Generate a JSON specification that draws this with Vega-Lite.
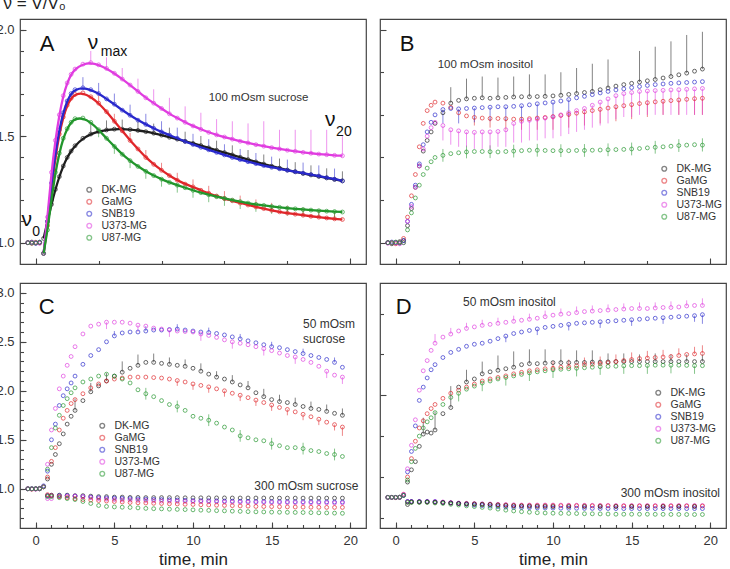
{
"$schema":"https://vega.github.io/schema/vega-lite/v6.json",
"background":"white",
"padding":{"left":-5,"top":-7,"right":0,"bottom":0},
"config":{"font":"Liberation Sans","view":{"stroke":"#444","strokeWidth":1.2},
"axis":{"domain":false,"grid":false,"tickColor":"#444","tickWidth":1.1,"labelColor":"#333","labelFontSize":13,"labelFont":"Liberation Sans","titleFont":"Liberation Sans","titleFontWeight":"normal","titleColor":"#222","labelOverlap":false,"labelFlush":false},
"legend":{"symbolType":"circle","symbolSize":22,"symbolStrokeWidth":1.4,"labelFontSize":10.5,"labelFont":"Liberation Sans","labelColor":"#333","rowPadding":1,"labelOffset":7,"padding":0}},
"datasets":{
"A":[
{"s":"DK-MG","t":-0.5,"v":1},{"s":"DK-MG","t":-0.25,"v":1.003},{"s":"DK-MG","t":0,"v":0.998},{"s":"DK-MG","t":0.25,"v":1},{"s":"DK-MG","t":0.5,"v":1.02},{"s":"DK-MG","t":0.75,"v":1.1},{"s":"DK-MG","t":1,"v":1.18},{"s":"DK-MG","t":1.25,"v":1.25},{"s":"DK-MG","t":1.5,"v":1.31},{"s":"DK-MG","t":1.75,"v":1.36},{"s":"DK-MG","t":2,"v":1.4},{"s":"DK-MG","t":2.25,"v":1.43},{"s":"DK-MG","t":2.5,"v":1.455},{"s":"DK-MG","t":3,"v":1.49},{"s":"DK-MG","t":3.5,"v":1.51,"h":1.555},{"s":"DK-MG","t":4,"v":1.522},{"s":"DK-MG","t":4.5,"v":1.529,"h":1.574},{"s":"DK-MG","t":5,"v":1.533},{"s":"DK-MG","t":5.5,"v":1.533,"h":1.578},{"s":"DK-MG","t":6,"v":1.531},{"s":"DK-MG","t":6.5,"v":1.527,"h":1.572},{"s":"DK-MG","t":7,"v":1.521},{"s":"DK-MG","t":7.5,"v":1.514,"h":1.559},{"s":"DK-MG","t":8,"v":1.505},{"s":"DK-MG","t":8.5,"v":1.495,"h":1.54},{"s":"DK-MG","t":9,"v":1.486},{"s":"DK-MG","t":9.5,"v":1.476,"h":1.521},{"s":"DK-MG","t":10,"v":1.466},{"s":"DK-MG","t":10.5,"v":1.456,"h":1.501},{"s":"DK-MG","t":11,"v":1.445},{"s":"DK-MG","t":11.5,"v":1.434,"h":1.479},{"s":"DK-MG","t":12,"v":1.423},{"s":"DK-MG","t":12.5,"v":1.412,"h":1.457},{"s":"DK-MG","t":13,"v":1.401},{"s":"DK-MG","t":13.5,"v":1.39,"h":1.435},{"s":"DK-MG","t":14,"v":1.379},{"s":"DK-MG","t":14.5,"v":1.369,"h":1.414},{"s":"DK-MG","t":15,"v":1.359},{"s":"DK-MG","t":15.5,"v":1.35,"h":1.395},{"s":"DK-MG","t":16,"v":1.341},{"s":"DK-MG","t":16.5,"v":1.333,"h":1.378},{"s":"DK-MG","t":17,"v":1.325},{"s":"DK-MG","t":17.5,"v":1.318,"h":1.363},{"s":"DK-MG","t":18,"v":1.311},{"s":"DK-MG","t":18.5,"v":1.304,"h":1.349},{"s":"DK-MG","t":19,"v":1.297},{"s":"DK-MG","t":19.5,"v":1.29,"h":1.335},
{"s":"GaMG","t":-0.5,"v":1},{"s":"GaMG","t":-0.25,"v":0.997},{"s":"GaMG","t":0,"v":1.002},{"s":"GaMG","t":0.25,"v":1},{"s":"GaMG","t":0.5,"v":0.95},{"s":"GaMG","t":0.75,"v":1.08},{"s":"GaMG","t":1,"v":1.25},{"s":"GaMG","t":1.25,"v":1.4},{"s":"GaMG","t":1.5,"v":1.51},{"s":"GaMG","t":1.75,"v":1.59},{"s":"GaMG","t":2,"v":1.645},{"s":"GaMG","t":2.25,"v":1.678},{"s":"GaMG","t":2.5,"v":1.696},{"s":"GaMG","t":3,"v":1.703},{"s":"GaMG","t":3.5,"v":1.685},{"s":"GaMG","t":4,"v":1.655,"h":1.69},{"s":"GaMG","t":4.5,"v":1.615},{"s":"GaMG","t":5,"v":1.57,"h":1.605},{"s":"GaMG","t":5.5,"v":1.525},{"s":"GaMG","t":6,"v":1.48,"h":1.515},{"s":"GaMG","t":6.5,"v":1.44},{"s":"GaMG","t":7,"v":1.4,"h":1.435},{"s":"GaMG","t":7.5,"v":1.368},{"s":"GaMG","t":8,"v":1.34,"h":1.375},{"s":"GaMG","t":8.5,"v":1.315},{"s":"GaMG","t":9,"v":1.293,"h":1.328},{"s":"GaMG","t":9.5,"v":1.275},{"s":"GaMG","t":10,"v":1.262,"h":1.297},{"s":"GaMG","t":10.5,"v":1.246},{"s":"GaMG","t":11,"v":1.232,"h":1.267},{"s":"GaMG","t":11.5,"v":1.219},{"s":"GaMG","t":12,"v":1.207,"h":1.242},{"s":"GaMG","t":12.5,"v":1.197},{"s":"GaMG","t":13,"v":1.186,"h":1.221},{"s":"GaMG","t":13.5,"v":1.177},{"s":"GaMG","t":14,"v":1.168,"h":1.203},{"s":"GaMG","t":14.5,"v":1.16},{"s":"GaMG","t":15,"v":1.152,"h":1.187},{"s":"GaMG","t":15.5,"v":1.145},{"s":"GaMG","t":16,"v":1.139,"h":1.174},{"s":"GaMG","t":16.5,"v":1.134},{"s":"GaMG","t":17,"v":1.129,"h":1.164},{"s":"GaMG","t":17.5,"v":1.124},{"s":"GaMG","t":18,"v":1.12,"h":1.155},{"s":"GaMG","t":18.5,"v":1.116},{"s":"GaMG","t":19,"v":1.112,"h":1.147},{"s":"GaMG","t":19.5,"v":1.109},
{"s":"SNB19","t":-0.5,"v":1},{"s":"SNB19","t":-0.25,"v":1},{"s":"SNB19","t":0,"v":0.997},{"s":"SNB19","t":0.25,"v":1.003},{"s":"SNB19","t":0.5,"v":0.95},{"s":"SNB19","t":0.75,"v":1.1},{"s":"SNB19","t":1,"v":1.28},{"s":"SNB19","t":1.25,"v":1.42},{"s":"SNB19","t":1.5,"v":1.53},{"s":"SNB19","t":1.75,"v":1.61},{"s":"SNB19","t":2,"v":1.665},{"s":"SNB19","t":2.25,"v":1.7},{"s":"SNB19","t":2.5,"v":1.718},{"s":"SNB19","t":3,"v":1.727,"h":1.777},{"s":"SNB19","t":3.5,"v":1.718},{"s":"SNB19","t":4,"v":1.7,"h":1.75},{"s":"SNB19","t":4.5,"v":1.675},{"s":"SNB19","t":5,"v":1.65,"h":1.7},{"s":"SNB19","t":5.5,"v":1.622},{"s":"SNB19","t":6,"v":1.598,"h":1.648},{"s":"SNB19","t":6.5,"v":1.575},{"s":"SNB19","t":7,"v":1.555,"h":1.605},{"s":"SNB19","t":7.5,"v":1.537},{"s":"SNB19","t":8,"v":1.52,"h":1.57},{"s":"SNB19","t":8.5,"v":1.505},{"s":"SNB19","t":9,"v":1.49,"h":1.54},{"s":"SNB19","t":9.5,"v":1.475},{"s":"SNB19","t":10,"v":1.461,"h":1.511},{"s":"SNB19","t":10.5,"v":1.448},{"s":"SNB19","t":11,"v":1.436,"h":1.486},{"s":"SNB19","t":11.5,"v":1.424},{"s":"SNB19","t":12,"v":1.412,"h":1.462},{"s":"SNB19","t":12.5,"v":1.4},{"s":"SNB19","t":13,"v":1.39,"h":1.44},{"s":"SNB19","t":13.5,"v":1.38},{"s":"SNB19","t":14,"v":1.371,"h":1.421},{"s":"SNB19","t":14.5,"v":1.362},{"s":"SNB19","t":15,"v":1.354,"h":1.404},{"s":"SNB19","t":15.5,"v":1.347},{"s":"SNB19","t":16,"v":1.34,"h":1.39},{"s":"SNB19","t":16.5,"v":1.333},{"s":"SNB19","t":17,"v":1.326,"h":1.376},{"s":"SNB19","t":17.5,"v":1.32},{"s":"SNB19","t":18,"v":1.313,"h":1.363},{"s":"SNB19","t":18.5,"v":1.305},{"s":"SNB19","t":19,"v":1.298,"h":1.348},{"s":"SNB19","t":19.5,"v":1.29},
{"s":"U373-MG","t":-0.5,"v":1},{"s":"U373-MG","t":-0.25,"v":1},{"s":"U373-MG","t":0,"v":1},{"s":"U373-MG","t":0.25,"v":0.997},{"s":"U373-MG","t":0.5,"v":0.95},{"s":"U373-MG","t":0.75,"v":1.12},{"s":"U373-MG","t":1,"v":1.33},{"s":"U373-MG","t":1.25,"v":1.48},{"s":"U373-MG","t":1.5,"v":1.6},{"s":"U373-MG","t":1.75,"v":1.69},{"s":"U373-MG","t":2,"v":1.75},{"s":"U373-MG","t":2.25,"v":1.79},{"s":"U373-MG","t":2.5,"v":1.815},{"s":"U373-MG","t":3,"v":1.838},{"s":"U373-MG","t":3.5,"v":1.845,"h":1.9},{"s":"U373-MG","t":4,"v":1.835},{"s":"U373-MG","t":4.5,"v":1.818,"h":1.87},{"s":"U373-MG","t":5,"v":1.795},{"s":"U373-MG","t":5.5,"v":1.768,"h":1.82},{"s":"U373-MG","t":6,"v":1.74},{"s":"U373-MG","t":6.5,"v":1.71,"h":1.77},{"s":"U373-MG","t":7,"v":1.68},{"s":"U373-MG","t":7.5,"v":1.655,"h":1.72},{"s":"U373-MG","t":8,"v":1.63},{"s":"U373-MG","t":8.5,"v":1.605,"h":1.68},{"s":"U373-MG","t":9,"v":1.585},{"s":"U373-MG","t":9.5,"v":1.565,"h":1.64},{"s":"U373-MG","t":10,"v":1.548},{"s":"U373-MG","t":10.5,"v":1.532,"h":1.61},{"s":"U373-MG","t":11,"v":1.518},{"s":"U373-MG","t":11.5,"v":1.506,"h":1.58},{"s":"U373-MG","t":12,"v":1.496},{"s":"U373-MG","t":12.5,"v":1.486,"h":1.57},{"s":"U373-MG","t":13,"v":1.476},{"s":"U373-MG","t":13.5,"v":1.468,"h":1.56},{"s":"U373-MG","t":14,"v":1.46},{"s":"U373-MG","t":14.5,"v":1.453,"h":1.57},{"s":"U373-MG","t":15,"v":1.446},{"s":"U373-MG","t":15.5,"v":1.44,"h":1.53},{"s":"U373-MG","t":16,"v":1.434},{"s":"U373-MG","t":16.5,"v":1.429,"h":1.53},{"s":"U373-MG","t":17,"v":1.424},{"s":"U373-MG","t":17.5,"v":1.42,"h":1.53},{"s":"U373-MG","t":18,"v":1.416},{"s":"U373-MG","t":18.5,"v":1.413,"h":1.53},{"s":"U373-MG","t":19,"v":1.41},{"s":"U373-MG","t":19.5,"v":1.408,"h":1.5},
{"s":"U87-MG","t":-0.5,"v":1},{"s":"U87-MG","t":-0.25,"v":0.998},{"s":"U87-MG","t":0,"v":1},{"s":"U87-MG","t":0.25,"v":1.002},{"s":"U87-MG","t":0.5,"v":0.95},{"s":"U87-MG","t":0.75,"v":1.06},{"s":"U87-MG","t":1,"v":1.2},{"s":"U87-MG","t":1.25,"v":1.33},{"s":"U87-MG","t":1.5,"v":1.42},{"s":"U87-MG","t":1.75,"v":1.49},{"s":"U87-MG","t":2,"v":1.535},{"s":"U87-MG","t":2.25,"v":1.565},{"s":"U87-MG","t":2.5,"v":1.582},{"s":"U87-MG","t":3,"v":1.585},{"s":"U87-MG","t":3.5,"v":1.565},{"s":"U87-MG","t":4,"v":1.53,"l":1.495},{"s":"U87-MG","t":4.5,"v":1.49},{"s":"U87-MG","t":5,"v":1.452,"l":1.417},{"s":"U87-MG","t":5.5,"v":1.415},{"s":"U87-MG","t":6,"v":1.385,"l":1.35},{"s":"U87-MG","t":6.5,"v":1.358},{"s":"U87-MG","t":7,"v":1.335,"l":1.3},{"s":"U87-MG","t":7.5,"v":1.315},{"s":"U87-MG","t":8,"v":1.298,"l":1.263},{"s":"U87-MG","t":8.5,"v":1.283},{"s":"U87-MG","t":9,"v":1.27,"l":1.235},{"s":"U87-MG","t":9.5,"v":1.258},{"s":"U87-MG","t":10,"v":1.246,"l":1.211},{"s":"U87-MG","t":10.5,"v":1.235},{"s":"U87-MG","t":11,"v":1.225,"l":1.19},{"s":"U87-MG","t":11.5,"v":1.216},{"s":"U87-MG","t":12,"v":1.208,"l":1.173},{"s":"U87-MG","t":12.5,"v":1.2},{"s":"U87-MG","t":13,"v":1.193,"l":1.158},{"s":"U87-MG","t":13.5,"v":1.186},{"s":"U87-MG","t":14,"v":1.18,"l":1.145},{"s":"U87-MG","t":14.5,"v":1.175},{"s":"U87-MG","t":15,"v":1.17,"l":1.135},{"s":"U87-MG","t":15.5,"v":1.166},{"s":"U87-MG","t":16,"v":1.162,"l":1.127},{"s":"U87-MG","t":16.5,"v":1.159},{"s":"U87-MG","t":17,"v":1.156,"l":1.121},{"s":"U87-MG","t":17.5,"v":1.153},{"s":"U87-MG","t":18,"v":1.15,"l":1.115},{"s":"U87-MG","t":18.5,"v":1.148},{"s":"U87-MG","t":19,"v":1.146,"l":1.111},{"s":"U87-MG","t":19.5,"v":1.144}
],
"B":[
{"s":"DK-MG","t":-0.5,"v":1},{"s":"DK-MG","t":-0.25,"v":0.995},{"s":"DK-MG","t":0,"v":1},{"s":"DK-MG","t":0.25,"v":1.005},{"s":"DK-MG","t":0.5,"v":1.01},{"s":"DK-MG","t":0.75,"v":1.08},{"s":"DK-MG","t":1,"v":1.16},{"s":"DK-MG","t":1.25,"v":1.26},{"s":"DK-MG","t":1.5,"v":1.36},{"s":"DK-MG","t":1.75,"v":1.43},{"s":"DK-MG","t":2,"v":1.48},{"s":"DK-MG","t":2.25,"v":1.52},{"s":"DK-MG","t":2.5,"v":1.56},{"s":"DK-MG","t":3,"v":1.61},{"s":"DK-MG","t":3.5,"v":1.655,"h":1.73},{"s":"DK-MG","t":4,"v":1.668},{"s":"DK-MG","t":4.5,"v":1.675,"h":1.77},{"s":"DK-MG","t":5,"v":1.678},{"s":"DK-MG","t":5.5,"v":1.68,"h":1.78},{"s":"DK-MG","t":6,"v":1.678},{"s":"DK-MG","t":6.5,"v":1.68,"h":1.775},{"s":"DK-MG","t":7,"v":1.682},{"s":"DK-MG","t":7.5,"v":1.684,"h":1.78},{"s":"DK-MG","t":8,"v":1.685},{"s":"DK-MG","t":8.5,"v":1.685,"h":1.79},{"s":"DK-MG","t":9,"v":1.686},{"s":"DK-MG","t":9.5,"v":1.687,"h":1.79},{"s":"DK-MG","t":10,"v":1.689},{"s":"DK-MG","t":10.5,"v":1.692,"h":1.8},{"s":"DK-MG","t":11,"v":1.696},{"s":"DK-MG","t":11.5,"v":1.7,"h":1.82},{"s":"DK-MG","t":12,"v":1.705},{"s":"DK-MG","t":12.5,"v":1.71,"h":1.84},{"s":"DK-MG","t":13,"v":1.718},{"s":"DK-MG","t":13.5,"v":1.726,"h":1.86},{"s":"DK-MG","t":14,"v":1.735},{"s":"DK-MG","t":14.5,"v":1.742},{"s":"DK-MG","t":15,"v":1.748},{"s":"DK-MG","t":15.5,"v":1.754,"h":1.9},{"s":"DK-MG","t":16,"v":1.76},{"s":"DK-MG","t":16.5,"v":1.766,"h":1.92},{"s":"DK-MG","t":17,"v":1.773},{"s":"DK-MG","t":17.5,"v":1.78,"h":1.945},{"s":"DK-MG","t":18,"v":1.788},{"s":"DK-MG","t":18.5,"v":1.796,"h":1.975},{"s":"DK-MG","t":19,"v":1.805},{"s":"DK-MG","t":19.5,"v":1.815,"h":1.99},
{"s":"GaMG","t":-0.5,"v":1},{"s":"GaMG","t":-0.25,"v":1},{"s":"GaMG","t":0,"v":0.995},{"s":"GaMG","t":0.25,"v":1},{"s":"GaMG","t":0.5,"v":1.02},{"s":"GaMG","t":0.75,"v":1.12},{"s":"GaMG","t":1,"v":1.22},{"s":"GaMG","t":1.25,"v":1.32},{"s":"GaMG","t":1.5,"v":1.45},{"s":"GaMG","t":1.75,"v":1.56},{"s":"GaMG","t":2,"v":1.62},{"s":"GaMG","t":2.25,"v":1.645},{"s":"GaMG","t":2.5,"v":1.66},{"s":"GaMG","t":3,"v":1.655},{"s":"GaMG","t":3.5,"v":1.635},{"s":"GaMG","t":4,"v":1.61},{"s":"GaMG","t":4.5,"v":1.595},{"s":"GaMG","t":5,"v":1.588,"l":1.55},{"s":"GaMG","t":5.5,"v":1.585},{"s":"GaMG","t":6,"v":1.583,"l":1.54},{"s":"GaMG","t":6.5,"v":1.583},{"s":"GaMG","t":7,"v":1.582,"l":1.53},{"s":"GaMG","t":7.5,"v":1.58},{"s":"GaMG","t":8,"v":1.58,"l":1.53},{"s":"GaMG","t":8.5,"v":1.582},{"s":"GaMG","t":9,"v":1.585,"l":1.53},{"s":"GaMG","t":9.5,"v":1.588},{"s":"GaMG","t":10,"v":1.592,"l":1.53},{"s":"GaMG","t":10.5,"v":1.597},{"s":"GaMG","t":11,"v":1.602,"l":1.54},{"s":"GaMG","t":11.5,"v":1.608},{"s":"GaMG","t":12,"v":1.614,"l":1.55},{"s":"GaMG","t":12.5,"v":1.62},{"s":"GaMG","t":13,"v":1.626,"l":1.56},{"s":"GaMG","t":13.5,"v":1.632},{"s":"GaMG","t":14,"v":1.638,"l":1.57},{"s":"GaMG","t":14.5,"v":1.643},{"s":"GaMG","t":15,"v":1.648,"l":1.58},{"s":"GaMG","t":15.5,"v":1.653},{"s":"GaMG","t":16,"v":1.657,"l":1.59},{"s":"GaMG","t":16.5,"v":1.661},{"s":"GaMG","t":17,"v":1.664,"l":1.6},{"s":"GaMG","t":17.5,"v":1.667},{"s":"GaMG","t":18,"v":1.67,"l":1.6},{"s":"GaMG","t":18.5,"v":1.673},{"s":"GaMG","t":19,"v":1.676,"l":1.6},{"s":"GaMG","t":19.5,"v":1.678,"l":1.6},
{"s":"SNB19","t":-0.5,"v":1},{"s":"SNB19","t":-0.25,"v":1.003},{"s":"SNB19","t":0,"v":1},{"s":"SNB19","t":0.25,"v":0.998},{"s":"SNB19","t":0.5,"v":1.01},{"s":"SNB19","t":0.75,"v":1.1},{"s":"SNB19","t":1,"v":1.18},{"s":"SNB19","t":1.25,"v":1.27},{"s":"SNB19","t":1.5,"v":1.37},{"s":"SNB19","t":1.75,"v":1.46},{"s":"SNB19","t":2,"v":1.52},{"s":"SNB19","t":2.25,"v":1.565},{"s":"SNB19","t":2.5,"v":1.6},{"s":"SNB19","t":3,"v":1.625,"l":1.56},{"s":"SNB19","t":3.5,"v":1.63},{"s":"SNB19","t":4,"v":1.628,"l":1.56},{"s":"SNB19","t":4.5,"v":1.63},{"s":"SNB19","t":5,"v":1.632,"l":1.565},{"s":"SNB19","t":5.5,"v":1.634},{"s":"SNB19","t":6,"v":1.636,"l":1.57},{"s":"SNB19","t":6.5,"v":1.638},{"s":"SNB19","t":7,"v":1.638,"l":1.57},{"s":"SNB19","t":7.5,"v":1.64},{"s":"SNB19","t":8,"v":1.643,"l":1.575},{"s":"SNB19","t":8.5,"v":1.647},{"s":"SNB19","t":9,"v":1.652,"l":1.58},{"s":"SNB19","t":9.5,"v":1.656},{"s":"SNB19","t":10,"v":1.66,"l":1.585},{"s":"SNB19","t":10.5,"v":1.665},{"s":"SNB19","t":11,"v":1.672,"l":1.59},{"s":"SNB19","t":11.5,"v":1.68},{"s":"SNB19","t":12,"v":1.687},{"s":"SNB19","t":12.5,"v":1.695},{"s":"SNB19","t":13,"v":1.703},{"s":"SNB19","t":13.5,"v":1.71},{"s":"SNB19","t":14,"v":1.717},{"s":"SNB19","t":14.5,"v":1.722},{"s":"SNB19","t":15,"v":1.728},{"s":"SNB19","t":15.5,"v":1.733},{"s":"SNB19","t":16,"v":1.738},{"s":"SNB19","t":16.5,"v":1.742},{"s":"SNB19","t":17,"v":1.745},{"s":"SNB19","t":17.5,"v":1.748},{"s":"SNB19","t":18,"v":1.75},{"s":"SNB19","t":18.5,"v":1.752},{"s":"SNB19","t":19,"v":1.754},{"s":"SNB19","t":19.5,"v":1.756},
{"s":"U373-MG","t":-0.5,"v":0.997},{"s":"U373-MG","t":-0.25,"v":1},{"s":"U373-MG","t":0,"v":1},{"s":"U373-MG","t":0.25,"v":0.995},{"s":"U373-MG","t":0.5,"v":1},{"s":"U373-MG","t":0.75,"v":1.1},{"s":"U373-MG","t":1,"v":1.17},{"s":"U373-MG","t":1.25,"v":1.26},{"s":"U373-MG","t":1.5,"v":1.36},{"s":"U373-MG","t":1.75,"v":1.44},{"s":"U373-MG","t":2,"v":1.5},{"s":"U373-MG","t":2.25,"v":1.54},{"s":"U373-MG","t":2.5,"v":1.565},{"s":"U373-MG","t":3,"v":1.55,"l":1.48},{"s":"U373-MG","t":3.5,"v":1.53,"l":1.46},{"s":"U373-MG","t":4,"v":1.525,"l":1.45},{"s":"U373-MG","t":4.5,"v":1.52,"l":1.45},{"s":"U373-MG","t":5,"v":1.518,"l":1.44},{"s":"U373-MG","t":5.5,"v":1.52,"l":1.44},{"s":"U373-MG","t":6,"v":1.52,"l":1.44},{"s":"U373-MG","t":6.5,"v":1.522,"l":1.45},{"s":"U373-MG","t":7,"v":1.53,"l":1.45},{"s":"U373-MG","t":7.5,"v":1.56,"l":1.47},{"s":"U373-MG","t":8,"v":1.57,"l":1.47},{"s":"U373-MG","t":8.5,"v":1.575,"l":1.48},{"s":"U373-MG","t":9,"v":1.58,"l":1.48},{"s":"U373-MG","t":9.5,"v":1.585,"l":1.49},{"s":"U373-MG","t":10,"v":1.59,"l":1.49},{"s":"U373-MG","t":10.5,"v":1.6,"l":1.5},{"s":"U373-MG","t":11,"v":1.61,"l":1.51},{"s":"U373-MG","t":11.5,"v":1.62,"l":1.52},{"s":"U373-MG","t":12,"v":1.63,"l":1.53},{"s":"U373-MG","t":12.5,"v":1.645,"l":1.54},{"s":"U373-MG","t":13,"v":1.66,"l":1.55},{"s":"U373-MG","t":13.5,"v":1.675,"l":1.56},{"s":"U373-MG","t":14,"v":1.69,"l":1.58},{"s":"U373-MG","t":14.5,"v":1.7,"l":1.59},{"s":"U373-MG","t":15,"v":1.705,"l":1.59},{"s":"U373-MG","t":15.5,"v":1.71,"l":1.6},{"s":"U373-MG","t":16,"v":1.712,"l":1.6},{"s":"U373-MG","t":16.5,"v":1.714,"l":1.6},{"s":"U373-MG","t":17,"v":1.715,"l":1.6},{"s":"U373-MG","t":17.5,"v":1.717,"l":1.6},{"s":"U373-MG","t":18,"v":1.718,"l":1.6},{"s":"U373-MG","t":18.5,"v":1.72,"l":1.6},{"s":"U373-MG","t":19,"v":1.722,"l":1.6},{"s":"U373-MG","t":19.5,"v":1.724,"l":1.6},
{"s":"U87-MG","t":-0.5,"v":1},{"s":"U87-MG","t":-0.25,"v":1},{"s":"U87-MG","t":0,"v":1.003},{"s":"U87-MG","t":0.25,"v":1},{"s":"U87-MG","t":0.5,"v":1},{"s":"U87-MG","t":0.75,"v":1.06},{"s":"U87-MG","t":1,"v":1.14},{"s":"U87-MG","t":1.25,"v":1.21},{"s":"U87-MG","t":1.5,"v":1.27},{"s":"U87-MG","t":1.75,"v":1.32},{"s":"U87-MG","t":2,"v":1.35},{"s":"U87-MG","t":2.25,"v":1.38},{"s":"U87-MG","t":2.5,"v":1.4},{"s":"U87-MG","t":3,"v":1.41,"h":1.44,"l":1.38},{"s":"U87-MG","t":3.5,"v":1.418},{"s":"U87-MG","t":4,"v":1.422},{"s":"U87-MG","t":4.5,"v":1.426,"h":1.456,"l":1.396},{"s":"U87-MG","t":5,"v":1.428},{"s":"U87-MG","t":5.5,"v":1.428},{"s":"U87-MG","t":6,"v":1.427,"h":1.457,"l":1.397},{"s":"U87-MG","t":6.5,"v":1.426},{"s":"U87-MG","t":7,"v":1.428},{"s":"U87-MG","t":7.5,"v":1.43,"h":1.46,"l":1.4},{"s":"U87-MG","t":8,"v":1.432},{"s":"U87-MG","t":8.5,"v":1.434},{"s":"U87-MG","t":9,"v":1.434,"h":1.464,"l":1.404},{"s":"U87-MG","t":9.5,"v":1.433},{"s":"U87-MG","t":10,"v":1.432},{"s":"U87-MG","t":10.5,"v":1.432,"h":1.462,"l":1.402},{"s":"U87-MG","t":11,"v":1.432},{"s":"U87-MG","t":11.5,"v":1.433},{"s":"U87-MG","t":12,"v":1.433,"h":1.463,"l":1.403},{"s":"U87-MG","t":12.5,"v":1.434},{"s":"U87-MG","t":13,"v":1.435},{"s":"U87-MG","t":13.5,"v":1.436,"h":1.466,"l":1.406},{"s":"U87-MG","t":14,"v":1.437},{"s":"U87-MG","t":14.5,"v":1.438},{"s":"U87-MG","t":15,"v":1.44,"h":1.47,"l":1.41},{"s":"U87-MG","t":15.5,"v":1.442},{"s":"U87-MG","t":16,"v":1.445},{"s":"U87-MG","t":16.5,"v":1.448,"h":1.478,"l":1.418},{"s":"U87-MG","t":17,"v":1.45},{"s":"U87-MG","t":17.5,"v":1.453},{"s":"U87-MG","t":18,"v":1.456,"h":1.486,"l":1.426},{"s":"U87-MG","t":18.5,"v":1.458},{"s":"U87-MG","t":19,"v":1.46},{"s":"U87-MG","t":19.5,"v":1.458,"h":1.49,"l":1.428}
],
"C":[
{"s":"DK-MG","t":-0.5,"v":1},{"s":"DK-MG","t":-0.25,"v":1},{"s":"DK-MG","t":0,"v":1},{"s":"DK-MG","t":0.25,"v":1.005},{"s":"DK-MG","t":0.5,"v":1.02},{"s":"DK-MG","t":0.75,"v":1.1},{"s":"DK-MG","t":1,"v":1.25},{"s":"DK-MG","t":1.25,"v":1.35},{"s":"DK-MG","t":1.5,"v":1.46},{"s":"DK-MG","t":1.75,"v":1.56},{"s":"DK-MG","t":2,"v":1.66},{"s":"DK-MG","t":2.25,"v":1.74},{"s":"DK-MG","t":2.5,"v":1.8,"h":1.92},{"s":"DK-MG","t":3,"v":1.9},{"s":"DK-MG","t":3.5,"v":1.99,"h":2.08},{"s":"DK-MG","t":4,"v":2.05},{"s":"DK-MG","t":4.5,"v":2.1,"h":2.18},{"s":"DK-MG","t":5,"v":2.15},{"s":"DK-MG","t":5.5,"v":2.19,"h":2.3},{"s":"DK-MG","t":6,"v":2.23},{"s":"DK-MG","t":6.5,"v":2.26,"h":2.37},{"s":"DK-MG","t":7,"v":2.29},{"s":"DK-MG","t":7.5,"v":2.29,"h":2.38},{"s":"DK-MG","t":8,"v":2.28},{"s":"DK-MG","t":8.5,"v":2.27,"h":2.34},{"s":"DK-MG","t":9,"v":2.26},{"s":"DK-MG","t":9.5,"v":2.25,"h":2.32},{"s":"DK-MG","t":10,"v":2.23},{"s":"DK-MG","t":10.5,"v":2.2,"h":2.28},{"s":"DK-MG","t":11,"v":2.17},{"s":"DK-MG","t":11.5,"v":2.14,"h":2.2},{"s":"DK-MG","t":12,"v":2.12},{"s":"DK-MG","t":12.5,"v":2.09,"h":2.16},{"s":"DK-MG","t":13,"v":2.06},{"s":"DK-MG","t":13.5,"v":2.03,"h":2.1},{"s":"DK-MG","t":14,"v":1.98},{"s":"DK-MG","t":14.5,"v":1.94,"h":2.02},{"s":"DK-MG","t":15,"v":1.91},{"s":"DK-MG","t":15.5,"v":1.89,"h":1.96},{"s":"DK-MG","t":16,"v":1.88},{"s":"DK-MG","t":16.5,"v":1.86,"h":1.93},{"s":"DK-MG","t":17,"v":1.84},{"s":"DK-MG","t":17.5,"v":1.82,"h":1.89},{"s":"DK-MG","t":18,"v":1.81},{"s":"DK-MG","t":18.5,"v":1.79,"h":1.86},{"s":"DK-MG","t":19,"v":1.77},{"s":"DK-MG","t":19.5,"v":1.75,"h":1.82},
{"s":"GaMG","t":-0.5,"v":1},{"s":"GaMG","t":-0.25,"v":0.995},{"s":"GaMG","t":0,"v":1},{"s":"GaMG","t":0.25,"v":1},{"s":"GaMG","t":0.5,"v":1.02},{"s":"GaMG","t":0.75,"v":1.12},{"s":"GaMG","t":1,"v":1.28},{"s":"GaMG","t":1.25,"v":1.42},{"s":"GaMG","t":1.5,"v":1.6},{"s":"GaMG","t":1.75,"v":1.72},{"s":"GaMG","t":2,"v":1.8},{"s":"GaMG","t":2.25,"v":1.87},{"s":"GaMG","t":2.5,"v":1.91},{"s":"GaMG","t":3,"v":1.97},{"s":"GaMG","t":3.5,"v":2.03},{"s":"GaMG","t":4,"v":2.07},{"s":"GaMG","t":4.5,"v":2.1},{"s":"GaMG","t":5,"v":2.12},{"s":"GaMG","t":5.5,"v":2.13},{"s":"GaMG","t":6,"v":2.14},{"s":"GaMG","t":6.5,"v":2.14},{"s":"GaMG","t":7,"v":2.14},{"s":"GaMG","t":7.5,"v":2.135},{"s":"GaMG","t":8,"v":2.13},{"s":"GaMG","t":8.5,"v":2.12},{"s":"GaMG","t":9,"v":2.105,"l":2.05},{"s":"GaMG","t":9.5,"v":2.09},{"s":"GaMG","t":10,"v":2.07,"l":2.01},{"s":"GaMG","t":10.5,"v":2.055},{"s":"GaMG","t":11,"v":2.04,"l":1.98},{"s":"GaMG","t":11.5,"v":2.02},{"s":"GaMG","t":12,"v":2,"l":1.94},{"s":"GaMG","t":12.5,"v":1.975},{"s":"GaMG","t":13,"v":1.955,"l":1.895},{"s":"GaMG","t":13.5,"v":1.93},{"s":"GaMG","t":14,"v":1.905,"l":1.845},{"s":"GaMG","t":14.5,"v":1.88},{"s":"GaMG","t":15,"v":1.855,"l":1.795},{"s":"GaMG","t":15.5,"v":1.83},{"s":"GaMG","t":16,"v":1.81,"l":1.75},{"s":"GaMG","t":16.5,"v":1.785},{"s":"GaMG","t":17,"v":1.76,"l":1.7},{"s":"GaMG","t":17.5,"v":1.735},{"s":"GaMG","t":18,"v":1.71,"l":1.65},{"s":"GaMG","t":18.5,"v":1.68},{"s":"GaMG","t":19,"v":1.655,"l":1.595},{"s":"GaMG","t":19.5,"v":1.63,"l":1.54},
{"s":"SNB19","t":-0.5,"v":1},{"s":"SNB19","t":-0.25,"v":1},{"s":"SNB19","t":0,"v":1},{"s":"SNB19","t":0.25,"v":1},{"s":"SNB19","t":0.5,"v":1.03},{"s":"SNB19","t":0.75,"v":1.18},{"s":"SNB19","t":1,"v":1.5},{"s":"SNB19","t":1.25,"v":1.66},{"s":"SNB19","t":1.5,"v":1.85},{"s":"SNB19","t":1.75,"v":1.95},{"s":"SNB19","t":2,"v":2.02},{"s":"SNB19","t":2.25,"v":2.08},{"s":"SNB19","t":2.5,"v":2.15},{"s":"SNB19","t":3,"v":2.27},{"s":"SNB19","t":3.5,"v":2.36},{"s":"SNB19","t":4,"v":2.42},{"s":"SNB19","t":4.5,"v":2.5},{"s":"SNB19","t":5,"v":2.56,"h":2.61},{"s":"SNB19","t":5.5,"v":2.59},{"s":"SNB19","t":6,"v":2.6},{"s":"SNB19","t":6.5,"v":2.6},{"s":"SNB19","t":7,"v":2.61,"h":2.66},{"s":"SNB19","t":7.5,"v":2.62},{"s":"SNB19","t":8,"v":2.62},{"s":"SNB19","t":8.5,"v":2.625},{"s":"SNB19","t":9,"v":2.63,"h":2.68},{"s":"SNB19","t":9.5,"v":2.62},{"s":"SNB19","t":10,"v":2.61},{"s":"SNB19","t":10.5,"v":2.6},{"s":"SNB19","t":11,"v":2.595,"h":2.645},{"s":"SNB19","t":11.5,"v":2.585},{"s":"SNB19","t":12,"v":2.57},{"s":"SNB19","t":12.5,"v":2.55},{"s":"SNB19","t":13,"v":2.53,"h":2.58},{"s":"SNB19","t":13.5,"v":2.51},{"s":"SNB19","t":14,"v":2.49},{"s":"SNB19","t":14.5,"v":2.47},{"s":"SNB19","t":15,"v":2.45,"h":2.5},{"s":"SNB19","t":15.5,"v":2.44},{"s":"SNB19","t":16,"v":2.42},{"s":"SNB19","t":16.5,"v":2.4},{"s":"SNB19","t":17,"v":2.38,"h":2.43},{"s":"SNB19","t":17.5,"v":2.36},{"s":"SNB19","t":18,"v":2.34},{"s":"SNB19","t":18.5,"v":2.32},{"s":"SNB19","t":19,"v":2.29,"h":2.34},{"s":"SNB19","t":19.5,"v":2.24},
{"s":"U373-MG","t":-0.5,"v":1},{"s":"U373-MG","t":-0.25,"v":1},{"s":"U373-MG","t":0,"v":0.995},{"s":"U373-MG","t":0.25,"v":1},{"s":"U373-MG","t":0.5,"v":1.02},{"s":"U373-MG","t":0.75,"v":1.25},{"s":"U373-MG","t":1,"v":1.6},{"s":"U373-MG","t":1.25,"v":1.82},{"s":"U373-MG","t":1.5,"v":2.02},{"s":"U373-MG","t":1.75,"v":2.15},{"s":"U373-MG","t":2,"v":2.26},{"s":"U373-MG","t":2.25,"v":2.35},{"s":"U373-MG","t":2.5,"v":2.45},{"s":"U373-MG","t":3,"v":2.58},{"s":"U373-MG","t":3.5,"v":2.66},{"s":"U373-MG","t":4,"v":2.68},{"s":"U373-MG","t":4.5,"v":2.7,"l":2.63},{"s":"U373-MG","t":5,"v":2.7},{"s":"U373-MG","t":5.5,"v":2.7},{"s":"U373-MG","t":6,"v":2.69},{"s":"U373-MG","t":6.5,"v":2.67,"l":2.6},{"s":"U373-MG","t":7,"v":2.66},{"s":"U373-MG","t":7.5,"v":2.64},{"s":"U373-MG","t":8,"v":2.63},{"s":"U373-MG","t":8.5,"v":2.62,"l":2.55},{"s":"U373-MG","t":9,"v":2.61},{"s":"U373-MG","t":9.5,"v":2.605},{"s":"U373-MG","t":10,"v":2.6},{"s":"U373-MG","t":10.5,"v":2.58,"l":2.51},{"s":"U373-MG","t":11,"v":2.565},{"s":"U373-MG","t":11.5,"v":2.545},{"s":"U373-MG","t":12,"v":2.52},{"s":"U373-MG","t":12.5,"v":2.5,"l":2.43},{"s":"U373-MG","t":13,"v":2.485},{"s":"U373-MG","t":13.5,"v":2.47},{"s":"U373-MG","t":14,"v":2.45},{"s":"U373-MG","t":14.5,"v":2.43,"l":2.36},{"s":"U373-MG","t":15,"v":2.41},{"s":"U373-MG","t":15.5,"v":2.385},{"s":"U373-MG","t":16,"v":2.36},{"s":"U373-MG","t":16.5,"v":2.345,"l":2.275},{"s":"U373-MG","t":17,"v":2.32},{"s":"U373-MG","t":17.5,"v":2.29},{"s":"U373-MG","t":18,"v":2.25},{"s":"U373-MG","t":18.5,"v":2.2,"l":2.13},{"s":"U373-MG","t":19,"v":2.16},{"s":"U373-MG","t":19.5,"v":2.14,"l":2.07},
{"s":"U87-MG","t":-0.5,"v":1},{"s":"U87-MG","t":-0.25,"v":1},{"s":"U87-MG","t":0,"v":1},{"s":"U87-MG","t":0.25,"v":1},{"s":"U87-MG","t":0.5,"v":1.02},{"s":"U87-MG","t":0.75,"v":1.2},{"s":"U87-MG","t":1,"v":1.42},{"s":"U87-MG","t":1.25,"v":1.62},{"s":"U87-MG","t":1.5,"v":1.75},{"s":"U87-MG","t":1.75,"v":1.85},{"s":"U87-MG","t":2,"v":1.92},{"s":"U87-MG","t":2.25,"v":1.98},{"s":"U87-MG","t":2.5,"v":2.03},{"s":"U87-MG","t":3,"v":2.09},{"s":"U87-MG","t":3.5,"v":2.12},{"s":"U87-MG","t":4,"v":2.15},{"s":"U87-MG","t":4.5,"v":2.17},{"s":"U87-MG","t":5,"v":2.15},{"s":"U87-MG","t":5.5,"v":2.12},{"s":"U87-MG","t":6,"v":2.08},{"s":"U87-MG","t":6.5,"v":2.01},{"s":"U87-MG","t":7,"v":1.97,"h":2.03,"l":1.91},{"s":"U87-MG","t":7.5,"v":1.94},{"s":"U87-MG","t":8,"v":1.9},{"s":"U87-MG","t":8.5,"v":1.86},{"s":"U87-MG","t":9,"v":1.84,"h":1.9,"l":1.78},{"s":"U87-MG","t":9.5,"v":1.8},{"s":"U87-MG","t":10,"v":1.74},{"s":"U87-MG","t":10.5,"v":1.72},{"s":"U87-MG","t":11,"v":1.7,"h":1.76,"l":1.64},{"s":"U87-MG","t":11.5,"v":1.67},{"s":"U87-MG","t":12,"v":1.63},{"s":"U87-MG","t":12.5,"v":1.6},{"s":"U87-MG","t":13,"v":1.54,"h":1.6,"l":1.48},{"s":"U87-MG","t":13.5,"v":1.52},{"s":"U87-MG","t":14,"v":1.5},{"s":"U87-MG","t":14.5,"v":1.49},{"s":"U87-MG","t":15,"v":1.46,"h":1.52,"l":1.4},{"s":"U87-MG","t":15.5,"v":1.44},{"s":"U87-MG","t":16,"v":1.42},{"s":"U87-MG","t":16.5,"v":1.42},{"s":"U87-MG","t":17,"v":1.41,"h":1.47,"l":1.35},{"s":"U87-MG","t":17.5,"v":1.39},{"s":"U87-MG","t":18,"v":1.38},{"s":"U87-MG","t":18.5,"v":1.36},{"s":"U87-MG","t":19,"v":1.35,"h":1.41,"l":1.29},{"s":"U87-MG","t":19.5,"v":1.33},
{"s":"DK-MG","t":0.75,"v":0.93},{"s":"DK-MG","t":1,"v":0.935},{"s":"DK-MG","t":1.5,"v":0.935},{"s":"DK-MG","t":2,"v":0.935},{"s":"DK-MG","t":2.5,"v":0.93},{"s":"DK-MG","t":3,"v":0.93},{"s":"DK-MG","t":3.5,"v":0.925},{"s":"DK-MG","t":4,"v":0.92},{"s":"DK-MG","t":4.5,"v":0.92},{"s":"DK-MG","t":5,"v":0.915},{"s":"DK-MG","t":5.5,"v":0.915},{"s":"DK-MG","t":6,"v":0.912},{"s":"DK-MG","t":6.5,"v":0.912},{"s":"DK-MG","t":7,"v":0.91},{"s":"DK-MG","t":7.5,"v":0.91},{"s":"DK-MG","t":8,"v":0.91},{"s":"DK-MG","t":8.5,"v":0.91},{"s":"DK-MG","t":9,"v":0.91},{"s":"DK-MG","t":9.5,"v":0.908},{"s":"DK-MG","t":10,"v":0.908},{"s":"DK-MG","t":10.5,"v":0.908},{"s":"DK-MG","t":11,"v":0.907},{"s":"DK-MG","t":11.5,"v":0.907},{"s":"DK-MG","t":12,"v":0.907},{"s":"DK-MG","t":12.5,"v":0.906},{"s":"DK-MG","t":13,"v":0.906},{"s":"DK-MG","t":13.5,"v":0.906},{"s":"DK-MG","t":14,"v":0.906},{"s":"DK-MG","t":14.5,"v":0.906},{"s":"DK-MG","t":15,"v":0.905},{"s":"DK-MG","t":15.5,"v":0.905},{"s":"DK-MG","t":16,"v":0.905},{"s":"DK-MG","t":16.5,"v":0.905},{"s":"DK-MG","t":17,"v":0.905},{"s":"DK-MG","t":17.5,"v":0.905},{"s":"DK-MG","t":18,"v":0.905},{"s":"DK-MG","t":18.5,"v":0.905},{"s":"DK-MG","t":19,"v":0.905},{"s":"DK-MG","t":19.5,"v":0.905},
{"s":"SNB19","t":0.75,"v":0.93},{"s":"SNB19","t":1,"v":0.93},{"s":"SNB19","t":1.5,"v":0.93},{"s":"SNB19","t":2,"v":0.93},{"s":"SNB19","t":2.5,"v":0.925},{"s":"SNB19","t":3,"v":0.92},{"s":"SNB19","t":3.5,"v":0.915},{"s":"SNB19","t":4,"v":0.91},{"s":"SNB19","t":4.5,"v":0.907},{"s":"SNB19","t":5,"v":0.905},{"s":"SNB19","t":5.5,"v":0.902},{"s":"SNB19","t":6,"v":0.9},{"s":"SNB19","t":6.5,"v":0.897},{"s":"SNB19","t":7,"v":0.895},{"s":"SNB19","t":7.5,"v":0.892},{"s":"SNB19","t":8,"v":0.89},{"s":"SNB19","t":8.5,"v":0.888},{"s":"SNB19","t":9,"v":0.885},{"s":"SNB19","t":9.5,"v":0.883},{"s":"SNB19","t":10,"v":0.88},{"s":"SNB19","t":10.5,"v":0.879},{"s":"SNB19","t":11,"v":0.878},{"s":"SNB19","t":11.5,"v":0.877},{"s":"SNB19","t":12,"v":0.875},{"s":"SNB19","t":12.5,"v":0.874},{"s":"SNB19","t":13,"v":0.873},{"s":"SNB19","t":13.5,"v":0.872},{"s":"SNB19","t":14,"v":0.87},{"s":"SNB19","t":14.5,"v":0.87},{"s":"SNB19","t":15,"v":0.869},{"s":"SNB19","t":15.5,"v":0.869},{"s":"SNB19","t":16,"v":0.868},{"s":"SNB19","t":16.5,"v":0.868},{"s":"SNB19","t":17,"v":0.867},{"s":"SNB19","t":17.5,"v":0.867},{"s":"SNB19","t":18,"v":0.866},{"s":"SNB19","t":18.5,"v":0.866},{"s":"SNB19","t":19,"v":0.865},{"s":"SNB19","t":19.5,"v":0.865},
{"s":"U373-MG","t":0.75,"v":0.9},{"s":"U373-MG","t":1,"v":0.9},{"s":"U373-MG","t":1.5,"v":0.92},{"s":"U373-MG","t":2,"v":0.925},{"s":"U373-MG","t":2.5,"v":0.925},{"s":"U373-MG","t":3,"v":0.92},{"s":"U373-MG","t":3.5,"v":0.91},{"s":"U373-MG","t":4,"v":0.9},{"s":"U373-MG","t":4.5,"v":0.895},{"s":"U373-MG","t":5,"v":0.89},{"s":"U373-MG","t":5.5,"v":0.887},{"s":"U373-MG","t":6,"v":0.885},{"s":"U373-MG","t":6.5,"v":0.882},{"s":"U373-MG","t":7,"v":0.88},{"s":"U373-MG","t":7.5,"v":0.878},{"s":"U373-MG","t":8,"v":0.875},{"s":"U373-MG","t":8.5,"v":0.874},{"s":"U373-MG","t":9,"v":0.872},{"s":"U373-MG","t":9.5,"v":0.871},{"s":"U373-MG","t":10,"v":0.87},{"s":"U373-MG","t":10.5,"v":0.869},{"s":"U373-MG","t":11,"v":0.868},{"s":"U373-MG","t":11.5,"v":0.867},{"s":"U373-MG","t":12,"v":0.865},{"s":"U373-MG","t":12.5,"v":0.864},{"s":"U373-MG","t":13,"v":0.863},{"s":"U373-MG","t":13.5,"v":0.862},{"s":"U373-MG","t":14,"v":0.86},{"s":"U373-MG","t":14.5,"v":0.86},{"s":"U373-MG","t":15,"v":0.859},{"s":"U373-MG","t":15.5,"v":0.859},{"s":"U373-MG","t":16,"v":0.858},{"s":"U373-MG","t":16.5,"v":0.858},{"s":"U373-MG","t":17,"v":0.857},{"s":"U373-MG","t":17.5,"v":0.857},{"s":"U373-MG","t":18,"v":0.856},{"s":"U373-MG","t":18.5,"v":0.856},{"s":"U373-MG","t":19,"v":0.855},{"s":"U373-MG","t":19.5,"v":0.855},
{"s":"GaMG","t":0.75,"v":0.94},{"s":"GaMG","t":1,"v":0.93},{"s":"GaMG","t":1.5,"v":0.92},{"s":"GaMG","t":2,"v":0.91},{"s":"GaMG","t":2.5,"v":0.9},{"s":"GaMG","t":3,"v":0.89},{"s":"GaMG","t":3.5,"v":0.885},{"s":"GaMG","t":4,"v":0.88},{"s":"GaMG","t":4.5,"v":0.875},{"s":"GaMG","t":5,"v":0.87},{"s":"GaMG","t":5.5,"v":0.865},{"s":"GaMG","t":6,"v":0.86},{"s":"GaMG","t":6.5,"v":0.857},{"s":"GaMG","t":7,"v":0.855},{"s":"GaMG","t":7.5,"v":0.852},{"s":"GaMG","t":8,"v":0.85},{"s":"GaMG","t":8.5,"v":0.847},{"s":"GaMG","t":9,"v":0.845},{"s":"GaMG","t":9.5,"v":0.842},{"s":"GaMG","t":10,"v":0.84},{"s":"GaMG","t":10.5,"v":0.837},{"s":"GaMG","t":11,"v":0.835},{"s":"GaMG","t":11.5,"v":0.832},{"s":"GaMG","t":12,"v":0.83},{"s":"GaMG","t":12.5,"v":0.828},{"s":"GaMG","t":13,"v":0.825},{"s":"GaMG","t":13.5,"v":0.823},{"s":"GaMG","t":14,"v":0.82},{"s":"GaMG","t":14.5,"v":0.819},{"s":"GaMG","t":15,"v":0.818},{"s":"GaMG","t":15.5,"v":0.817},{"s":"GaMG","t":16,"v":0.815},{"s":"GaMG","t":16.5,"v":0.814},{"s":"GaMG","t":17,"v":0.813},{"s":"GaMG","t":17.5,"v":0.812},{"s":"GaMG","t":18,"v":0.811},{"s":"GaMG","t":18.5,"v":0.81},{"s":"GaMG","t":19,"v":0.81},{"s":"GaMG","t":19.5,"v":0.81},
{"s":"U87-MG","t":0.75,"v":0.92},{"s":"U87-MG","t":1,"v":0.92},{"s":"U87-MG","t":1.5,"v":0.91},{"s":"U87-MG","t":2,"v":0.9},{"s":"U87-MG","t":2.5,"v":0.89},{"s":"U87-MG","t":3,"v":0.87},{"s":"U87-MG","t":3.5,"v":0.85},{"s":"U87-MG","t":4,"v":0.83},{"s":"U87-MG","t":4.5,"v":0.82},{"s":"U87-MG","t":5,"v":0.815},{"s":"U87-MG","t":5.5,"v":0.812},{"s":"U87-MG","t":6,"v":0.81},{"s":"U87-MG","t":6.5,"v":0.805},{"s":"U87-MG","t":7,"v":0.8},{"s":"U87-MG","t":7.5,"v":0.797},{"s":"U87-MG","t":8,"v":0.795},{"s":"U87-MG","t":8.5,"v":0.792},{"s":"U87-MG","t":9,"v":0.79},{"s":"U87-MG","t":9.5,"v":0.788},{"s":"U87-MG","t":10,"v":0.785},{"s":"U87-MG","t":10.5,"v":0.782},{"s":"U87-MG","t":11,"v":0.78},{"s":"U87-MG","t":11.5,"v":0.777},{"s":"U87-MG","t":12,"v":0.775},{"s":"U87-MG","t":12.5,"v":0.772},{"s":"U87-MG","t":13,"v":0.77},{"s":"U87-MG","t":13.5,"v":0.767},{"s":"U87-MG","t":14,"v":0.765},{"s":"U87-MG","t":14.5,"v":0.764},{"s":"U87-MG","t":15,"v":0.762},{"s":"U87-MG","t":15.5,"v":0.761},{"s":"U87-MG","t":16,"v":0.76},{"s":"U87-MG","t":16.5,"v":0.759},{"s":"U87-MG","t":17,"v":0.758},{"s":"U87-MG","t":17.5,"v":0.757},{"s":"U87-MG","t":18,"v":0.755},{"s":"U87-MG","t":18.5,"v":0.754},{"s":"U87-MG","t":19,"v":0.752},{"s":"U87-MG","t":19.5,"v":0.75}
],
"D":[
{"s":"DK-MG","t":-0.5,"v":1},{"s":"DK-MG","t":-0.25,"v":1},{"s":"DK-MG","t":0,"v":1},{"s":"DK-MG","t":0.25,"v":1.003},{"s":"DK-MG","t":0.5,"v":1.02},{"s":"DK-MG","t":0.75,"v":1.15},{"s":"DK-MG","t":1,"v":1.27},{"s":"DK-MG","t":1.25,"v":1.35},{"s":"DK-MG","t":1.5,"v":1.5},{"s":"DK-MG","t":1.75,"v":1.62,"h":1.78},{"s":"DK-MG","t":2,"v":1.64},{"s":"DK-MG","t":2.25,"v":1.63},{"s":"DK-MG","t":2.5,"v":1.66,"h":1.84},{"s":"DK-MG","t":3,"v":1.82},{"s":"DK-MG","t":3.5,"v":1.88,"h":2.09},{"s":"DK-MG","t":4,"v":2.08},{"s":"DK-MG","t":4.5,"v":2.13,"h":2.25},{"s":"DK-MG","t":5,"v":2.16},{"s":"DK-MG","t":5.5,"v":2.21,"h":2.33},{"s":"DK-MG","t":6,"v":2.23},{"s":"DK-MG","t":6.5,"v":2.245,"h":2.39},{"s":"DK-MG","t":7,"v":2.26},{"s":"DK-MG","t":7.5,"v":2.275,"h":2.43},{"s":"DK-MG","t":8,"v":2.3},{"s":"DK-MG","t":8.5,"v":2.31,"h":2.45},{"s":"DK-MG","t":9,"v":2.31},{"s":"DK-MG","t":9.5,"v":2.315,"h":2.45},{"s":"DK-MG","t":10,"v":2.32},{"s":"DK-MG","t":10.5,"v":2.32,"h":2.45},{"s":"DK-MG","t":11,"v":2.32},{"s":"DK-MG","t":11.5,"v":2.322,"h":2.44},{"s":"DK-MG","t":12,"v":2.322},{"s":"DK-MG","t":12.5,"v":2.325,"h":2.44},{"s":"DK-MG","t":13,"v":2.325},{"s":"DK-MG","t":13.5,"v":2.327,"h":2.41},{"s":"DK-MG","t":14,"v":2.33},{"s":"DK-MG","t":14.5,"v":2.33,"h":2.41},{"s":"DK-MG","t":15,"v":2.33},{"s":"DK-MG","t":15.5,"v":2.33,"h":2.4},{"s":"DK-MG","t":16,"v":2.33},{"s":"DK-MG","t":16.5,"v":2.33,"h":2.41},{"s":"DK-MG","t":17,"v":2.33},{"s":"DK-MG","t":17.5,"v":2.33,"h":2.4},{"s":"DK-MG","t":18,"v":2.33},{"s":"DK-MG","t":18.5,"v":2.33,"h":2.4},{"s":"DK-MG","t":19,"v":2.33},{"s":"DK-MG","t":19.5,"v":2.33,"h":2.4},
{"s":"GaMG","t":-0.5,"v":1},{"s":"GaMG","t":-0.25,"v":1},{"s":"GaMG","t":0,"v":0.997},{"s":"GaMG","t":0.25,"v":1},{"s":"GaMG","t":0.5,"v":1.03},{"s":"GaMG","t":0.75,"v":1.2},{"s":"GaMG","t":1,"v":1.38},{"s":"GaMG","t":1.25,"v":1.55},{"s":"GaMG","t":1.5,"v":1.68},{"s":"GaMG","t":1.75,"v":1.75},{"s":"GaMG","t":2,"v":1.82},{"s":"GaMG","t":2.25,"v":1.87},{"s":"GaMG","t":2.5,"v":1.91},{"s":"GaMG","t":3,"v":1.97},{"s":"GaMG","t":3.5,"v":2.02},{"s":"GaMG","t":4,"v":2.05},{"s":"GaMG","t":4.5,"v":2.08},{"s":"GaMG","t":5,"v":2.11},{"s":"GaMG","t":5.5,"v":2.14},{"s":"GaMG","t":6,"v":2.16},{"s":"GaMG","t":6.5,"v":2.175},{"s":"GaMG","t":7,"v":2.19},{"s":"GaMG","t":7.5,"v":2.21},{"s":"GaMG","t":8,"v":2.225},{"s":"GaMG","t":8.5,"v":2.24},{"s":"GaMG","t":9,"v":2.25},{"s":"GaMG","t":9.5,"v":2.26},{"s":"GaMG","t":10,"v":2.265,"h":2.335},{"s":"GaMG","t":10.5,"v":2.275},{"s":"GaMG","t":11,"v":2.28,"h":2.35},{"s":"GaMG","t":11.5,"v":2.29},{"s":"GaMG","t":12,"v":2.3,"h":2.37},{"s":"GaMG","t":12.5,"v":2.305},{"s":"GaMG","t":13,"v":2.31,"h":2.38},{"s":"GaMG","t":13.5,"v":2.32},{"s":"GaMG","t":14,"v":2.33,"h":2.4},{"s":"GaMG","t":14.5,"v":2.34},{"s":"GaMG","t":15,"v":2.35,"h":2.42},{"s":"GaMG","t":15.5,"v":2.36},{"s":"GaMG","t":16,"v":2.365,"h":2.435},{"s":"GaMG","t":16.5,"v":2.37},{"s":"GaMG","t":17,"v":2.375,"h":2.445},{"s":"GaMG","t":17.5,"v":2.38},{"s":"GaMG","t":18,"v":2.39,"h":2.46},{"s":"GaMG","t":18.5,"v":2.4},{"s":"GaMG","t":19,"v":2.405,"h":2.475},{"s":"GaMG","t":19.5,"v":2.41,"h":2.49},
{"s":"SNB19","t":-0.5,"v":1},{"s":"SNB19","t":-0.25,"v":1},{"s":"SNB19","t":0,"v":1},{"s":"SNB19","t":0.25,"v":1},{"s":"SNB19","t":0.5,"v":1.02},{"s":"SNB19","t":0.75,"v":1.25},{"s":"SNB19","t":1,"v":1.45},{"s":"SNB19","t":1.25,"v":1.7},{"s":"SNB19","t":1.5,"v":1.95},{"s":"SNB19","t":1.75,"v":2.08},{"s":"SNB19","t":2,"v":2.17},{"s":"SNB19","t":2.25,"v":2.25},{"s":"SNB19","t":2.5,"v":2.3},{"s":"SNB19","t":3,"v":2.37},{"s":"SNB19","t":3.5,"v":2.42},{"s":"SNB19","t":4,"v":2.45},{"s":"SNB19","t":4.5,"v":2.48},{"s":"SNB19","t":5,"v":2.5},{"s":"SNB19","t":5.5,"v":2.51},{"s":"SNB19","t":6,"v":2.53},{"s":"SNB19","t":6.5,"v":2.555},{"s":"SNB19","t":7,"v":2.58,"l":2.52},{"s":"SNB19","t":7.5,"v":2.605},{"s":"SNB19","t":8,"v":2.62},{"s":"SNB19","t":8.5,"v":2.635},{"s":"SNB19","t":9,"v":2.65,"l":2.59},{"s":"SNB19","t":9.5,"v":2.665},{"s":"SNB19","t":10,"v":2.675},{"s":"SNB19","t":10.5,"v":2.685},{"s":"SNB19","t":11,"v":2.695,"l":2.635},{"s":"SNB19","t":11.5,"v":2.705},{"s":"SNB19","t":12,"v":2.71},{"s":"SNB19","t":12.5,"v":2.715},{"s":"SNB19","t":13,"v":2.72,"l":2.66},{"s":"SNB19","t":13.5,"v":2.725},{"s":"SNB19","t":14,"v":2.73},{"s":"SNB19","t":14.5,"v":2.735},{"s":"SNB19","t":15,"v":2.74,"l":2.68},{"s":"SNB19","t":15.5,"v":2.745},{"s":"SNB19","t":16,"v":2.75},{"s":"SNB19","t":16.5,"v":2.755},{"s":"SNB19","t":17,"v":2.76,"l":2.7},{"s":"SNB19","t":17.5,"v":2.765},{"s":"SNB19","t":18,"v":2.77},{"s":"SNB19","t":18.5,"v":2.775},{"s":"SNB19","t":19,"v":2.78,"l":2.72},{"s":"SNB19","t":19.5,"v":2.79,"l":2.7},
{"s":"U373-MG","t":-0.5,"v":1},{"s":"U373-MG","t":-0.25,"v":1},{"s":"U373-MG","t":0,"v":1},{"s":"U373-MG","t":0.25,"v":1},{"s":"U373-MG","t":0.5,"v":1.03},{"s":"U373-MG","t":0.75,"v":1.28},{"s":"U373-MG","t":1,"v":1.51},{"s":"U373-MG","t":1.25,"v":1.76},{"s":"U373-MG","t":1.5,"v":2.05},{"s":"U373-MG","t":1.75,"v":2.24},{"s":"U373-MG","t":2,"v":2.34},{"s":"U373-MG","t":2.25,"v":2.44},{"s":"U373-MG","t":2.5,"v":2.51,"h":2.6},{"s":"U373-MG","t":3,"v":2.57},{"s":"U373-MG","t":3.5,"v":2.6,"h":2.66},{"s":"U373-MG","t":4,"v":2.63},{"s":"U373-MG","t":4.5,"v":2.655,"h":2.71},{"s":"U373-MG","t":5,"v":2.67},{"s":"U373-MG","t":5.5,"v":2.685,"h":2.74},{"s":"U373-MG","t":6,"v":2.695},{"s":"U373-MG","t":6.5,"v":2.705,"h":2.76},{"s":"U373-MG","t":7,"v":2.715},{"s":"U373-MG","t":7.5,"v":2.725,"h":2.78},{"s":"U373-MG","t":8,"v":2.735},{"s":"U373-MG","t":8.5,"v":2.745,"h":2.8},{"s":"U373-MG","t":9,"v":2.755},{"s":"U373-MG","t":9.5,"v":2.77,"h":2.83},{"s":"U373-MG","t":10,"v":2.785},{"s":"U373-MG","t":10.5,"v":2.795,"h":2.85},{"s":"U373-MG","t":11,"v":2.8},{"s":"U373-MG","t":11.5,"v":2.81,"h":2.87},{"s":"U373-MG","t":12,"v":2.82},{"s":"U373-MG","t":12.5,"v":2.825,"h":2.88},{"s":"U373-MG","t":13,"v":2.83},{"s":"U373-MG","t":13.5,"v":2.835,"h":2.89},{"s":"U373-MG","t":14,"v":2.84},{"s":"U373-MG","t":14.5,"v":2.845,"h":2.9},{"s":"U373-MG","t":15,"v":2.85},{"s":"U373-MG","t":15.5,"v":2.85,"h":2.91},{"s":"U373-MG","t":16,"v":2.85},{"s":"U373-MG","t":16.5,"v":2.855,"h":2.91},{"s":"U373-MG","t":17,"v":2.86},{"s":"U373-MG","t":17.5,"v":2.86,"h":2.92},{"s":"U373-MG","t":18,"v":2.865},{"s":"U373-MG","t":18.5,"v":2.875,"h":2.93},{"s":"U373-MG","t":19,"v":2.88},{"s":"U373-MG","t":19.5,"v":2.88,"h":2.95},
{"s":"U87-MG","t":-0.5,"v":1},{"s":"U87-MG","t":-0.25,"v":1},{"s":"U87-MG","t":0,"v":1},{"s":"U87-MG","t":0.25,"v":1},{"s":"U87-MG","t":0.5,"v":1.02},{"s":"U87-MG","t":0.75,"v":1.17},{"s":"U87-MG","t":1,"v":1.35},{"s":"U87-MG","t":1.25,"v":1.48},{"s":"U87-MG","t":1.5,"v":1.6},{"s":"U87-MG","t":1.75,"v":1.68},{"s":"U87-MG","t":2,"v":1.74},{"s":"U87-MG","t":2.25,"v":1.78},{"s":"U87-MG","t":2.5,"v":1.83},{"s":"U87-MG","t":3,"v":1.91},{"s":"U87-MG","t":3.5,"v":1.98},{"s":"U87-MG","t":4,"v":2.02,"l":1.94},{"s":"U87-MG","t":4.5,"v":2.06},{"s":"U87-MG","t":5,"v":2.09},{"s":"U87-MG","t":5.5,"v":2.12,"l":2.04},{"s":"U87-MG","t":6,"v":2.14},{"s":"U87-MG","t":6.5,"v":2.16},{"s":"U87-MG","t":7,"v":2.175,"l":2.095},{"s":"U87-MG","t":7.5,"v":2.19},{"s":"U87-MG","t":8,"v":2.205},{"s":"U87-MG","t":8.5,"v":2.22,"l":2.14},{"s":"U87-MG","t":9,"v":2.23},{"s":"U87-MG","t":9.5,"v":2.24},{"s":"U87-MG","t":10,"v":2.25,"l":2.17},{"s":"U87-MG","t":10.5,"v":2.255},{"s":"U87-MG","t":11,"v":2.26},{"s":"U87-MG","t":11.5,"v":2.265,"l":2.185},{"s":"U87-MG","t":12,"v":2.27},{"s":"U87-MG","t":12.5,"v":2.275},{"s":"U87-MG","t":13,"v":2.28,"l":2.2},{"s":"U87-MG","t":13.5,"v":2.283},{"s":"U87-MG","t":14,"v":2.285},{"s":"U87-MG","t":14.5,"v":2.288,"l":2.21},{"s":"U87-MG","t":15,"v":2.29},{"s":"U87-MG","t":15.5,"v":2.29},{"s":"U87-MG","t":16,"v":2.292,"l":2.21},{"s":"U87-MG","t":16.5,"v":2.295},{"s":"U87-MG","t":17,"v":2.295},{"s":"U87-MG","t":17.5,"v":2.295,"l":2.215},{"s":"U87-MG","t":18,"v":2.295},{"s":"U87-MG","t":18.5,"v":2.293},{"s":"U87-MG","t":19,"v":2.29,"l":2.21},{"s":"U87-MG","t":19.5,"v":2.29},
{"s":"U373-MG","t":0.75,"v":0.96},{"s":"U373-MG","t":1,"v":0.96},{"s":"U373-MG","t":1.5,"v":0.96},{"s":"U373-MG","t":2,"v":0.96},{"s":"U373-MG","t":2.5,"v":0.96},{"s":"U373-MG","t":3,"v":0.955},{"s":"U373-MG","t":3.5,"v":0.95},{"s":"U373-MG","t":4,"v":0.945},{"s":"U373-MG","t":4.5,"v":0.942},{"s":"U373-MG","t":5,"v":0.94},{"s":"U373-MG","t":5.5,"v":0.937},{"s":"U373-MG","t":6,"v":0.935},{"s":"U373-MG","t":6.5,"v":0.932},{"s":"U373-MG","t":7,"v":0.93},{"s":"U373-MG","t":7.5,"v":0.927},{"s":"U373-MG","t":8,"v":0.925},{"s":"U373-MG","t":8.5,"v":0.925},{"s":"U373-MG","t":9,"v":0.925},{"s":"U373-MG","t":9.5,"v":0.925},{"s":"U373-MG","t":10,"v":0.925},{"s":"U373-MG","t":10.5,"v":0.924},{"s":"U373-MG","t":11,"v":0.923},{"s":"U373-MG","t":11.5,"v":0.923},{"s":"U373-MG","t":12,"v":0.922},{"s":"U373-MG","t":12.5,"v":0.922},{"s":"U373-MG","t":13,"v":0.921},{"s":"U373-MG","t":13.5,"v":0.921},{"s":"U373-MG","t":14,"v":0.92},{"s":"U373-MG","t":14.5,"v":0.92},{"s":"U373-MG","t":15,"v":0.92},{"s":"U373-MG","t":15.5,"v":0.92},{"s":"U373-MG","t":16,"v":0.92},{"s":"U373-MG","t":16.5,"v":0.92},{"s":"U373-MG","t":17,"v":0.92},{"s":"U373-MG","t":17.5,"v":0.92},{"s":"U373-MG","t":18,"v":0.92},{"s":"U373-MG","t":18.5,"v":0.92},{"s":"U373-MG","t":19,"v":0.92},{"s":"U373-MG","t":19.5,"v":0.92},
{"s":"GaMG","t":0.75,"v":0.955},{"s":"GaMG","t":1,"v":0.955},{"s":"GaMG","t":1.5,"v":0.955},{"s":"GaMG","t":2,"v":0.955},{"s":"GaMG","t":2.5,"v":0.952},{"s":"GaMG","t":3,"v":0.95},{"s":"GaMG","t":3.5,"v":0.945},{"s":"GaMG","t":4,"v":0.94},{"s":"GaMG","t":4.5,"v":0.937},{"s":"GaMG","t":5,"v":0.935},{"s":"GaMG","t":5.5,"v":0.932},{"s":"GaMG","t":6,"v":0.93},{"s":"GaMG","t":6.5,"v":0.927},{"s":"GaMG","t":7,"v":0.925},{"s":"GaMG","t":7.5,"v":0.922},{"s":"GaMG","t":8,"v":0.92},{"s":"GaMG","t":8.5,"v":0.92},{"s":"GaMG","t":9,"v":0.92},{"s":"GaMG","t":9.5,"v":0.92},{"s":"GaMG","t":10,"v":0.92},{"s":"GaMG","t":10.5,"v":0.918},{"s":"GaMG","t":11,"v":0.918},{"s":"GaMG","t":11.5,"v":0.918},{"s":"GaMG","t":12,"v":0.918},{"s":"GaMG","t":12.5,"v":0.917},{"s":"GaMG","t":13,"v":0.917},{"s":"GaMG","t":13.5,"v":0.917},{"s":"GaMG","t":14,"v":0.915},{"s":"GaMG","t":14.5,"v":0.915},{"s":"GaMG","t":15,"v":0.915},{"s":"GaMG","t":15.5,"v":0.915},{"s":"GaMG","t":16,"v":0.915},{"s":"GaMG","t":16.5,"v":0.915},{"s":"GaMG","t":17,"v":0.915},{"s":"GaMG","t":17.5,"v":0.915},{"s":"GaMG","t":18,"v":0.915},{"s":"GaMG","t":18.5,"v":0.915},{"s":"GaMG","t":19,"v":0.915},{"s":"GaMG","t":19.5,"v":0.915},
{"s":"SNB19","t":0.75,"v":0.96},{"s":"SNB19","t":1,"v":0.96},{"s":"SNB19","t":1.5,"v":0.96},{"s":"SNB19","t":2,"v":0.96},{"s":"SNB19","t":2.5,"v":0.958},{"s":"SNB19","t":3,"v":0.95},{"s":"SNB19","t":3.5,"v":0.945},{"s":"SNB19","t":4,"v":0.94},{"s":"SNB19","t":4.5,"v":0.932},{"s":"SNB19","t":5,"v":0.925},{"s":"SNB19","t":5.5,"v":0.92},{"s":"SNB19","t":6,"v":0.915},{"s":"SNB19","t":6.5,"v":0.91},{"s":"SNB19","t":7,"v":0.905},{"s":"SNB19","t":7.5,"v":0.902},{"s":"SNB19","t":8,"v":0.9},{"s":"SNB19","t":8.5,"v":0.899},{"s":"SNB19","t":9,"v":0.897},{"s":"SNB19","t":9.5,"v":0.896},{"s":"SNB19","t":10,"v":0.895},{"s":"SNB19","t":10.5,"v":0.894},{"s":"SNB19","t":11,"v":0.893},{"s":"SNB19","t":11.5,"v":0.893},{"s":"SNB19","t":12,"v":0.892},{"s":"SNB19","t":12.5,"v":0.892},{"s":"SNB19","t":13,"v":0.891},{"s":"SNB19","t":13.5,"v":0.891},{"s":"SNB19","t":14,"v":0.89},{"s":"SNB19","t":14.5,"v":0.89},{"s":"SNB19","t":15,"v":0.89},{"s":"SNB19","t":15.5,"v":0.89},{"s":"SNB19","t":16,"v":0.89},{"s":"SNB19","t":16.5,"v":0.89},{"s":"SNB19","t":17,"v":0.89},{"s":"SNB19","t":17.5,"v":0.89},{"s":"SNB19","t":18,"v":0.89},{"s":"SNB19","t":18.5,"v":0.89},{"s":"SNB19","t":19,"v":0.89},{"s":"SNB19","t":19.5,"v":0.89},
{"s":"DK-MG","t":0.75,"v":0.93},{"s":"DK-MG","t":1,"v":0.955},{"s":"DK-MG","t":1.5,"v":0.955},{"s":"DK-MG","t":2,"v":0.955},{"s":"DK-MG","t":2.5,"v":0.952},{"s":"DK-MG","t":3,"v":0.95},{"s":"DK-MG","t":3.5,"v":0.945},{"s":"DK-MG","t":4,"v":0.94},{"s":"DK-MG","t":4.5,"v":0.937},{"s":"DK-MG","t":5,"v":0.935},{"s":"DK-MG","t":5.5,"v":0.932},{"s":"DK-MG","t":6,"v":0.93},{"s":"DK-MG","t":6.5,"v":0.925},{"s":"DK-MG","t":7,"v":0.92},{"s":"DK-MG","t":7.5,"v":0.917},{"s":"DK-MG","t":8,"v":0.915},{"s":"DK-MG","t":8.5,"v":0.913},{"s":"DK-MG","t":9,"v":0.912},{"s":"DK-MG","t":9.5,"v":0.911},{"s":"DK-MG","t":10,"v":0.91},{"s":"DK-MG","t":11,"v":0.91},{"s":"DK-MG","t":12,"v":0.91},{"s":"DK-MG","t":13,"v":0.91},{"s":"DK-MG","t":14,"v":0.91},{"s":"DK-MG","t":15,"v":0.91},{"s":"DK-MG","t":16,"v":0.91},{"s":"DK-MG","t":17,"v":0.91},{"s":"DK-MG","t":18,"v":0.91},{"s":"DK-MG","t":19,"v":0.91},
{"s":"U87-MG","t":0.75,"v":0.95},{"s":"U87-MG","t":1,"v":0.95},{"s":"U87-MG","t":1.5,"v":0.95},{"s":"U87-MG","t":2,"v":0.95},{"s":"U87-MG","t":2.5,"v":0.945},{"s":"U87-MG","t":3,"v":0.94},{"s":"U87-MG","t":3.5,"v":0.932},{"s":"U87-MG","t":4,"v":0.925},{"s":"U87-MG","t":4.5,"v":0.917},{"s":"U87-MG","t":5,"v":0.91},{"s":"U87-MG","t":5.5,"v":0.902},{"s":"U87-MG","t":6,"v":0.895},{"s":"U87-MG","t":6.5,"v":0.885},{"s":"U87-MG","t":7,"v":0.875},{"s":"U87-MG","t":7.5,"v":0.867},{"s":"U87-MG","t":8,"v":0.86},{"s":"U87-MG","t":8.5,"v":0.855},{"s":"U87-MG","t":9,"v":0.85},{"s":"U87-MG","t":9.5,"v":0.847},{"s":"U87-MG","t":10,"v":0.845},{"s":"U87-MG","t":10.5,"v":0.844},{"s":"U87-MG","t":11,"v":0.843},{"s":"U87-MG","t":11.5,"v":0.842},{"s":"U87-MG","t":12,"v":0.84},{"s":"U87-MG","t":12.5,"v":0.839},{"s":"U87-MG","t":13,"v":0.838},{"s":"U87-MG","t":13.5,"v":0.837},{"s":"U87-MG","t":14,"v":0.835},{"s":"U87-MG","t":14.5,"v":0.835},{"s":"U87-MG","t":15,"v":0.835},{"s":"U87-MG","t":15.5,"v":0.835},{"s":"U87-MG","t":16,"v":0.835},{"s":"U87-MG","t":16.5,"v":0.834},{"s":"U87-MG","t":17,"v":0.834},{"s":"U87-MG","t":17.5,"v":0.833},{"s":"U87-MG","t":18,"v":0.833},{"s":"U87-MG","t":18.5,"v":0.832},{"s":"U87-MG","t":19,"v":0.832},{"s":"U87-MG","t":19.5,"v":0.832}
]
},
"columns":2,
"spacing":{"row":19,"column":14},
"bounds":"flush",
"resolve":{"scale":{"x":"independent","y":"independent","color":"independent"},"legend":{"color":"independent"}},
"concat":[
{"width":346,"height":245,"data":{"name":"A"},
"resolve":{"axis":{"y":"independent"}},
"layer":[
{"transform":[{"filter":"isValid(datum.h)"}],"mark":{"type":"rule","strokeWidth":1,"opacity":0.55},"encoding":{"x":{"field":"t","type":"quantitative"},"y":{"field":"v","type":"quantitative","axis":{"orient":"left","values":[1,1.1,1.2,1.3,1.4,1.5,1.6,1.7,1.8,1.9,2],"labels":false,"title":null,"tickSize":-3.5}},"y2":{"field":"h"},"color":{"field":"s","type":"nominal"}}},
{"transform":[{"filter":"isValid(datum.l)"}],"mark":{"type":"rule","strokeWidth":1,"opacity":0.55},"encoding":{"x":{"field":"t","type":"quantitative"},"y":{"field":"v","type":"quantitative","axis":null},"y2":{"field":"l"},"color":{"field":"s","type":"nominal"}}},
{"mark":{"type":"point","filled":false,"size":15,"strokeWidth":0.8,"opacity":0.85},"encoding":{
"x":{"field":"t","type":"quantitative","scale":{"domain":[-1,21],"nice":false,"zero":false},"axis":{"values":[0,1,2,3,4,5,6,7,8,9,10,11,12,13,14,15,16,17,18,19,20],"labels":false,"title":null,"tickSize":{"condition":{"test":"datum.value % 5 === 0","value":-6},"value":-3.5}}},
"y":{"field":"v","type":"quantitative","scale":{"domain":[0.9,2.05],"nice":false,"zero":false},"axis":{"orient":"left","values":[1,1.5,2],"format":".1f","labelOverlap":false,"labelPadding":12,"tickSize":-6,"title":"ν = V/V₀","titleAngle":0,"titleAlign":"left","titleBaseline":"alphabetic","titleX":-17,"titleY":-11,"titleFontSize":17}},
"color":{"field":"s","type":"nominal","scale":{"domain":["DK-MG","GaMG","SNB19","U373-MG","U87-MG"],"range":["#1e1e1e","#e0262a","#2828cc","#e03ce0","#22962c"]},"legend":{"title":null,"orient":"none","legendX":64,"legendY":165.5}}}},
{"transform":[{"filter":"datum.t >= 0.5"}],"mark":{"type":"line","strokeWidth":2.3,"interpolate":"basis"},"encoding":{"x":{"field":"t","type":"quantitative"},"y":{"field":"v","type":"quantitative","axis":null},"color":{"field":"s","type":"nominal"}}},
{"data":{"values":[{}]},"mark":{"type":"text","text":"A","fontSize":22,"align":"left","baseline":"alphabetic","color":"#111"},"encoding":{"x":{"datum":0.25},"y":{"datum":1.9,"axis":null}}},
{"data":{"values":[{}]},"mark":{"type":"text","text":"ν","fontSize":21,"align":"left","baseline":"alphabetic","color":"#111"},"encoding":{"x":{"datum":3.3},"y":{"datum":1.907,"axis":null}}},
{"data":{"values":[{}]},"mark":{"type":"text","text":"max","fontSize":14,"align":"left","baseline":"alphabetic","color":"#111"},"encoding":{"x":{"datum":4.14},"y":{"datum":1.874,"axis":null}}},
{"data":{"values":[{}]},"mark":{"type":"text","text":"ν","fontSize":21,"align":"left","baseline":"alphabetic","color":"#111"},"encoding":{"x":{"datum":18.4},"y":{"datum":1.547,"axis":null}}},
{"data":{"values":[{}]},"mark":{"type":"text","text":"20","fontSize":14,"align":"left","baseline":"alphabetic","color":"#111"},"encoding":{"x":{"datum":19.1},"y":{"datum":1.5,"axis":null}}},
{"data":{"values":[{}]},"mark":{"type":"text","text":"ν","fontSize":21,"align":"left","baseline":"alphabetic","color":"#111"},"encoding":{"x":{"datum":-0.9},"y":{"datum":1.079,"axis":null}}},
{"data":{"values":[{}]},"mark":{"type":"text","text":"0","fontSize":14,"align":"left","baseline":"alphabetic","color":"#111"},"encoding":{"x":{"datum":-0.22},"y":{"datum":1.033,"axis":null}}},
{"data":{"values":[{}]},"mark":{"type":"text","text":"100 mOsm sucrose","fontSize":11.5,"align":"left","baseline":"alphabetic","color":"#333"},"encoding":{"x":{"datum":11.0},"y":{"datum":1.667,"axis":null}}}
]},
{"width":346,"height":245,"data":{"name":"B"},
"layer":[
{"transform":[{"filter":"isValid(datum.h)"}],"mark":{"type":"rule","strokeWidth":1,"opacity":0.55},"encoding":{"x":{"field":"t","type":"quantitative"},"y":{"field":"v","type":"quantitative"},"y2":{"field":"h"},"color":{"field":"s","type":"nominal"}}},
{"transform":[{"filter":"isValid(datum.l)"}],"mark":{"type":"rule","strokeWidth":1,"opacity":0.55},"encoding":{"x":{"field":"t","type":"quantitative"},"y":{"field":"v","type":"quantitative"},"y2":{"field":"l"},"color":{"field":"s","type":"nominal"}}},
{"mark":{"type":"point","filled":false,"size":15,"strokeWidth":0.8,"opacity":0.85},"encoding":{
"x":{"field":"t","type":"quantitative","scale":{"domain":[-1,21],"nice":false,"zero":false},"axis":{"values":[0,1,2,3,4,5,6,7,8,9,10,11,12,13,14,15,16,17,18,19,20],"labels":false,"title":null,"tickSize":{"condition":{"test":"datum.value % 5 === 0","value":-6},"value":-3.5}}},
"y":{"field":"v","type":"quantitative","scale":{"domain":[0.9,2.05],"nice":false,"zero":false},"axis":{"values":[1,1.1,1.2,1.3,1.4,1.5,1.6,1.7,1.8,1.9,2],"labels":false,"title":null,"tickSize":{"condition":{"test":"abs(datum.value*2-round(datum.value*2))<0.001","value":-6},"value":-3.5}}},
"color":{"field":"s","type":"nominal","scale":{"domain":["DK-MG","GaMG","SNB19","U373-MG","U87-MG"],"range":["#1e1e1e","#e0262a","#2828cc","#e03ce0","#22962c"]},"legend":{"title":null,"orient":"none","legendX":279,"legendY":144.5}}}},
{"data":{"values":[{}]},"mark":{"type":"text","text":"B","fontSize":22,"align":"left","baseline":"alphabetic","color":"#111"},"encoding":{"x":{"datum":0.25},"y":{"datum":1.9}}},
{"data":{"values":[{}]},"mark":{"type":"text","text":"100 mOsm inositol","fontSize":11.5,"align":"left","baseline":"alphabetic","color":"#333"},"encoding":{"x":{"datum":2.67},"y":{"datum":1.822}}}
]},
{"width":346,"height":245,"data":{"name":"C"},
"resolve":{"axis":{"x":"independent","y":"independent"}},
"layer":[
{"transform":[{"filter":"isValid(datum.h)"}],"mark":{"type":"rule","strokeWidth":1,"opacity":0.55},"encoding":{"x":{"field":"t","type":"quantitative","axis":{"orient":"bottom","values":[0,1,2,3,4,5,6,7,8,9,10,11,12,13,14,15,16,17,18,19,20],"labels":false,"title":null,"tickSize":-3.5}},"y":{"field":"v","type":"quantitative","axis":{"orient":"left","values":[0.7,0.8,0.9,1,1.1,1.2,1.3,1.4,1.5,1.6,1.7,1.8,1.9,2,2.1,2.2,2.3,2.4,2.5,2.6,2.7,2.8,2.9,3],"labels":false,"title":null,"tickSize":-3.5}},"y2":{"field":"h"},"color":{"field":"s","type":"nominal"}}},
{"transform":[{"filter":"isValid(datum.l)"}],"mark":{"type":"rule","strokeWidth":1,"opacity":0.55},"encoding":{"x":{"field":"t","type":"quantitative","axis":null},"y":{"field":"v","type":"quantitative","axis":null},"y2":{"field":"l"},"color":{"field":"s","type":"nominal"}}},
{"mark":{"type":"point","filled":false,"size":15,"strokeWidth":0.8,"opacity":0.85},"encoding":{
"x":{"field":"t","type":"quantitative","scale":{"domain":[-1,21],"nice":false,"zero":false},"axis":{"orient":"bottom","values":[0,5,10,15,20],"labelOverlap":false,"labelPadding":12,"labelFontSize":13,"title":"time, min","titleFontSize":17,"titlePadding":4,"tickSize":-6}},
"y":{"field":"v","type":"quantitative","scale":{"domain":[0.6,3.1],"nice":false,"zero":false},"axis":{"orient":"left","values":[1,1.5,2,2.5,3],"format":".1f","labelOverlap":false,"labelPadding":12,"title":null,"tickSize":-6}},
"color":{"field":"s","type":"nominal","scale":{"domain":["DK-MG","GaMG","SNB19","U373-MG","U87-MG"],"range":["#1e1e1e","#e0262a","#2828cc","#e03ce0","#22962c"]},"legend":{"title":null,"orient":"none","legendX":77,"legendY":137.5}}}},
{"data":{"values":[{}]},"mark":{"type":"text","text":"C","fontSize":22,"align":"left","baseline":"alphabetic","color":"#111"},"encoding":{"x":{"datum":0.2,"axis":null},"y":{"datum":2.786,"axis":null}}},
{"data":{"values":[{}]},"mark":{"type":"text","text":["50 mOsm","sucrose"],"lineHeight":15,"fontSize":12,"align":"left","baseline":"alphabetic","color":"#333"},"encoding":{"x":{"datum":17.0,"axis":null},"y":{"datum":2.643,"axis":null}}},
{"data":{"values":[{}]},"mark":{"type":"text","text":"300 mOsm sucrose","fontSize":12,"align":"left","baseline":"alphabetic","color":"#333"},"encoding":{"x":{"datum":13.9,"axis":null},"y":{"datum":0.99,"axis":null}}}
]},
{"width":346,"height":245,"data":{"name":"D"},
"resolve":{"axis":{"x":"independent"}},
"layer":[
{"transform":[{"filter":"isValid(datum.h)"}],"mark":{"type":"rule","strokeWidth":1,"opacity":0.55},"encoding":{"x":{"field":"t","type":"quantitative","axis":{"orient":"bottom","values":[0,1,2,3,4,5,6,7,8,9,10,11,12,13,14,15,16,17,18,19,20],"labels":false,"title":null,"tickSize":-3.5}},"y":{"field":"v","type":"quantitative"},"y2":{"field":"h"},"color":{"field":"s","type":"nominal"}}},
{"transform":[{"filter":"isValid(datum.l)"}],"mark":{"type":"rule","strokeWidth":1,"opacity":0.55},"encoding":{"x":{"field":"t","type":"quantitative","axis":null},"y":{"field":"v","type":"quantitative"},"y2":{"field":"l"},"color":{"field":"s","type":"nominal"}}},
{"mark":{"type":"point","filled":false,"size":15,"strokeWidth":0.8,"opacity":0.85},"encoding":{
"x":{"field":"t","type":"quantitative","scale":{"domain":[-1,21],"nice":false,"zero":false},"axis":{"orient":"bottom","values":[0,5,10,15,20],"labelOverlap":false,"labelPadding":12,"labelFontSize":13,"title":"time, min","titleFontSize":17,"titlePadding":4,"tickSize":-6}},
"y":{"field":"v","type":"quantitative","scale":{"domain":[0.7,3.1],"nice":false,"zero":false},"axis":{"values":[0.8,0.9,1,1.1,1.2,1.3,1.4,1.5,1.6,1.7,1.8,1.9,2,2.1,2.2,2.3,2.4,2.5,2.6,2.7,2.8,2.9,3],"labels":false,"title":null,"tickSize":{"condition":{"test":"abs(datum.value*2-round(datum.value*2))<0.001","value":-6},"value":-3.5}}},
"color":{"field":"s","type":"nominal","scale":{"domain":["DK-MG","GaMG","SNB19","U373-MG","U87-MG"],"range":["#1e1e1e","#e0262a","#2828cc","#e03ce0","#22962c"]},"legend":{"title":null,"orient":"none","legendX":273,"legendY":104.5}}}},
{"data":{"values":[{}]},"mark":{"type":"text","text":"D","fontSize":22,"align":"left","baseline":"alphabetic","color":"#111"},"encoding":{"x":{"datum":0.0,"axis":null},"y":{"datum":2.8}}},
{"data":{"values":[{}]},"mark":{"type":"text","text":"50 mOsm inositol","fontSize":12,"align":"left","baseline":"alphabetic","color":"#333"},"encoding":{"x":{"datum":4.28,"axis":null},"y":{"datum":2.87}}},
{"data":{"values":[{}]},"mark":{"type":"text","text":"300 mOsm inositol","fontSize":12,"align":"left","baseline":"alphabetic","color":"#333"},"encoding":{"x":{"datum":14.3,"axis":null},"y":{"datum":1.0}}}
]}
]
}
